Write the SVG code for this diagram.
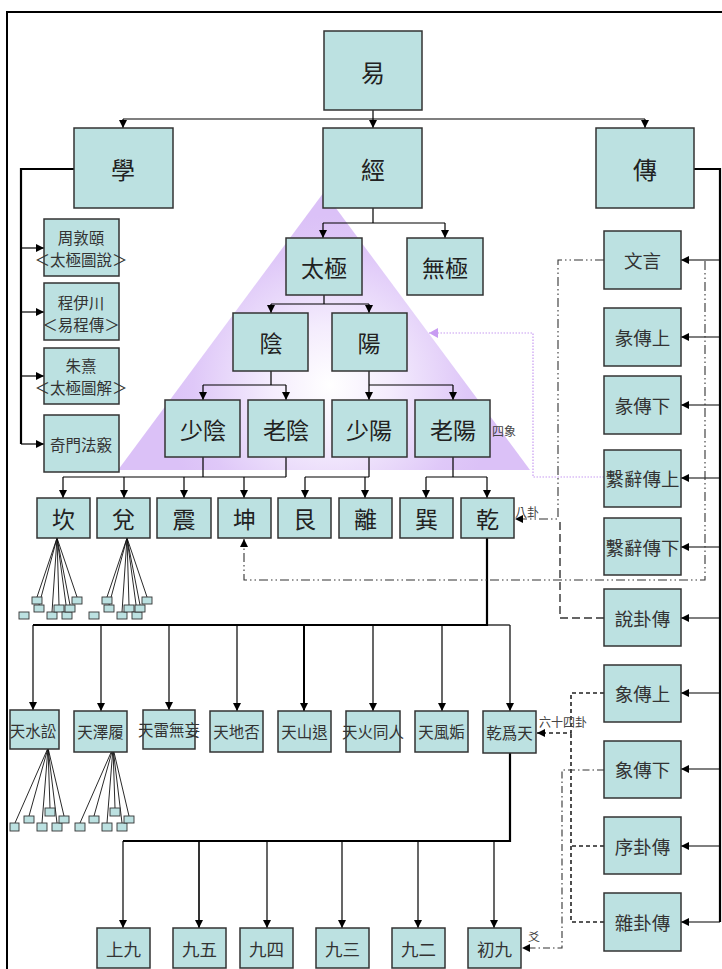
<svg xmlns="http://www.w3.org/2000/svg" width="722" height="969" viewBox="0 0 722 969">
<defs>
<radialGradient id="tri" gradientUnits="userSpaceOnUse" cx="330" cy="385" r="170">
<stop offset="0" stop-color="#ffffff"/>
<stop offset="0.35" stop-color="#f4ecfd"/>
<stop offset="0.8" stop-color="#dfc8f8"/>
<stop offset="1" stop-color="#dbc1f7"/>
</radialGradient>
<marker id="ar" markerUnits="userSpaceOnUse" markerWidth="9" markerHeight="9" refX="8" refY="4" orient="auto">
<path d="M0,0 L8,4 L0,8 z" fill="#000"/>
</marker>
<marker id="arp" markerUnits="userSpaceOnUse" markerWidth="10" markerHeight="10" refX="9" refY="5" orient="auto">
<path d="M0,0 L9,5 L0,10 z" fill="#c89cf2"/>
</marker>
<style>
.b{fill:#bce1e1;stroke:#333;stroke-width:1.5}
.s{fill:#bce1e1;stroke:#333;stroke-width:0.9}
text{font-family:"Noto Sans CJK TC","Noto Sans CJK SC",sans-serif;fill:#222;text-anchor:middle;dominant-baseline:central}
.t24{font-size:24px}
.t23{font-size:23px}
.t18{font-size:18.5px;fill:#333}
.t17{font-size:17.5px;fill:#333}
.t16{font-size:15.5px;fill:#333}
.t15{font-size:15.5px;fill:#333}
.lbl{font-size:12px;fill:#444;text-anchor:start}
.c{fill:none;stroke:#000;stroke-width:1.2}
.ca{fill:none;stroke:#000;stroke-width:1.2;marker-end:url(#ar)}
.k{fill:none;stroke:#000;stroke-width:2.2}
.f{fill:none;stroke:#111;stroke-width:0.9}
.dd{fill:none;stroke:#333;stroke-width:1.1;stroke-dasharray:9,3,1.5,3,1.5,3}
.da{fill:none;stroke:#333;stroke-width:1.4;stroke-dasharray:8,4}
.ds{fill:none;stroke:#222;stroke-width:1.6;stroke-dasharray:4,3}
.dt{fill:none;stroke:#333;stroke-width:1.1;stroke-dasharray:7,3,1.5,3}
.pp{fill:none;stroke:#c89cf2;stroke-width:1.2;stroke-dasharray:1.5,1.5}
</style>
</defs>
<rect width="722" height="969" fill="#fff"/>
<path d="M7,969 V12 H722" fill="none" stroke="#000" stroke-width="2"/>
<polygon id="triangle" points="324,192 530,470 118,470" fill="url(#tri)"/>
<g id="connectors">
<path class="c" d="M373,110 V119 M123,119 H645"/>
<path class="ca" d="M123,119 V128"/>
<path class="ca" d="M373,119 V128"/>
<path class="ca" d="M645,119 V128"/>
<path class="k" d="M74,169 H21 V444"/>
<path class="ca" d="M21,248 H44"/>
<path class="ca" d="M21,312 H44"/>
<path class="ca" d="M21,376 H44"/>
<path class="ca" d="M21,444 H44"/>
<path class="k" d="M694,169 H720 V922"/>
<path class="ca" d="M720,260 H681"/>
<path class="ca" d="M720,337 H681"/>
<path class="ca" d="M720,405 H681"/>
<path class="ca" d="M720,478 H681"/>
<path class="ca" d="M720,547 H681"/>
<path class="ca" d="M720,618 H681"/>
<path class="ca" d="M720,693 H681"/>
<path class="ca" d="M720,769 H681"/>
<path class="ca" d="M720,846 H681"/>
<path class="ca" d="M720,922 H681"/>
<path class="c" d="M373,208 V223 M323,223 H445"/>
<path class="ca" d="M323,223 V238"/>
<path class="ca" d="M445,223 V238"/>
<path class="c" d="M324,295 V304 M271,304 H369"/>
<path class="ca" d="M271,304 V313"/>
<path class="ca" d="M369,304 V313"/>
<path class="c" d="M271,371 V385 M203,385 H286"/>
<path class="ca" d="M203,385 V400"/>
<path class="ca" d="M286,385 V400"/>
<path class="c" d="M369,371 V385 M369,385 H453"/>
<path class="ca" d="M369,385 V400"/>
<path class="ca" d="M453,385 V400"/>
<path class="c" d="M203,457 V477 M286,457 V477 M63,477 H286"/>
<path class="ca" d="M63,477 V498"/>
<path class="ca" d="M124,477 V498"/>
<path class="ca" d="M184,477 V498"/>
<path class="ca" d="M244,477 V498"/>
<path class="c" d="M369,457 V477 M305,477 H369"/>
<path class="ca" d="M305,477 V498"/>
<path class="ca" d="M365,477 V498"/>
<path class="c" d="M453,457 V477 M426,477 H487"/>
<path class="ca" d="M426,477 V498"/>
<path class="ca" d="M487,477 V498"/>
<path class="k" d="M487,538 V625 H33"/>
<path class="c" d="M487,625 H510"/>
<path class="ca" d="M33,625 V710"/>
<path class="ca" d="M101,625 V711"/>
<path class="ca" d="M169,625 V710"/>
<path class="ca" d="M237,625 V711"/>
<path class="ca" d="M304,625 V711" style="stroke-width:2"/>
<path class="ca" d="M373,625 V711"/>
<path class="ca" d="M442,625 V711"/>
<path class="ca" d="M510,625 V711"/>
<path class="k" d="M510,753 V841 H123"/>
<path class="ca" d="M123,841 V928"/>
<path class="ca" d="M199,841 V928" style="stroke-width:1.6"/>
<path class="ca" d="M267,841 V928"/>
<path class="ca" d="M342,841 V928"/>
<path class="ca" d="M418,841 V928"/>
<path class="ca" d="M494,841 V928"/>
<path class="dd" d="M604,260 H558 V519 H515" marker-end="url(#ar)"/>
<path class="da" d="M604,618 H560 V519"/>
<path class="dd" d="M705,261 V580 H244 V539" marker-end="url(#ar)"/>
<path class="pp" d="M604,477 H533 V333 H429" marker-end="url(#arp)"/>
<path class="ds" d="M604,693 H571 V733 H537" marker-end="url(#ar)"/>
<path class="ds" d="M604,846 H571 M604,922 H571 V733"/>
<path class="dt" d="M604,770 H562 V948 H522" marker-end="url(#ar)"/>
<path class="f" d="M57,538 L37,597 M57,538 L39,605 M57,538 L52,612 M57,538 L59,605 M57,538 L67,612 M57,538 L70,605 M57,538 L77,597"/>
<path class="f" d="M127,538 L107,597 M127,538 L109,605 M127,538 L122,612 M127,538 L129,605 M127,538 L137,612 M127,538 L140,605 M127,538 L147,597"/>
<path class="f" d="M48,748 L29,816 M48,748 L42,823 M48,748 L50,808 M48,748 L57,823 M48,748 L64,816 M48,748 L15,823"/>
<path class="f" d="M113,748 L94,816 M113,748 L107,823 M113,748 L115,808 M113,748 L122,823 M113,748 L129,816 M113,748 L80,823"/>
</g>
<g id="fan-small">
<rect class="s" x="32" y="597" width="10" height="7"/><rect class="s" x="34" y="605" width="10" height="7"/><rect class="s" x="19" y="612" width="10" height="7"/><rect class="s" x="47" y="612" width="10" height="7"/><rect class="s" x="54" y="605" width="10" height="7"/><rect class="s" x="62" y="612" width="10" height="7"/><rect class="s" x="65" y="605" width="10" height="7"/><rect class="s" x="72" y="597" width="10" height="7"/>
<rect class="s" x="102" y="597" width="10" height="7"/><rect class="s" x="104" y="605" width="10" height="7"/><rect class="s" x="89" y="612" width="10" height="7"/><rect class="s" x="117" y="612" width="10" height="7"/><rect class="s" x="124" y="605" width="10" height="7"/><rect class="s" x="132" y="612" width="10" height="7"/><rect class="s" x="135" y="605" width="10" height="7"/><rect class="s" x="142" y="597" width="10" height="7"/>
<rect class="s" x="10" y="823" width="9" height="8"/><rect class="s" x="24" y="816" width="10" height="7"/><rect class="s" x="37" y="823" width="10" height="8"/><rect class="s" x="45" y="808" width="10" height="8"/><rect class="s" x="52" y="823" width="10" height="8"/><rect class="s" x="59" y="816" width="10" height="7"/>
<rect class="s" x="75" y="823" width="10" height="8"/><rect class="s" x="89" y="816" width="10" height="7"/><rect class="s" x="102" y="823" width="10" height="8"/><rect class="s" x="110" y="808" width="10" height="8"/><rect class="s" x="117" y="823" width="10" height="8"/><rect class="s" x="124" y="816" width="10" height="7"/>
</g>
<g id="n-yi"><rect class="b" x="324" y="31" width="98" height="79"/><text class="t24" x="373" y="71">易</text></g>
<g id="n-xue"><rect class="b" x="74" y="128" width="99" height="80"/><text class="t24" x="123" y="168">學</text></g>
<g id="n-jing"><rect class="b" x="323" y="128" width="99" height="80"/><text class="t24" x="373" y="168">經</text></g>
<g id="n-zhuan"><rect class="b" x="596" y="128" width="98" height="80"/><text class="t24" x="645" y="168">傳</text></g>
<g id="n-zhou"><rect class="b" x="44" y="219" width="75" height="57"/><text class="t16" x="81" y="237">周敦頤</text><text class="t16" x="81" y="259">＜太極圖說＞</text></g>
<g id="n-cheng"><rect class="b" x="44" y="283" width="75" height="57"/><text class="t16" x="81" y="302">程伊川</text><text class="t16" x="81" y="324">＜易程傳＞</text></g>
<g id="n-zhu"><rect class="b" x="44" y="348" width="75" height="56"/><text class="t16" x="81" y="365">朱熹</text><text class="t16" x="81" y="387">＜太極圖解＞</text></g>
<g id="n-qimen"><rect class="b" x="44" y="415" width="75" height="57"/><text class="t16" x="81" y="444">奇門法竅</text></g>
<g id="n-taiji"><rect class="b" x="286" y="238" width="76" height="57"/><text class="t23" x="324" y="267">太極</text></g>
<g id="n-wuji"><rect class="b" x="407" y="238" width="76" height="57"/><text class="t23" x="445" y="267">無極</text></g>
<g id="n-yin"><rect class="b" x="233" y="313" width="75" height="58"/><text class="t23" x="271" y="342">陰</text></g>
<g id="n-yang"><rect class="b" x="332" y="313" width="75" height="58"/><text class="t23" x="369" y="342">陽</text></g>
<g id="n-shaoyin"><rect class="b" x="165" y="400" width="75" height="57"/><text class="t23" x="203" y="429">少陰</text></g>
<g id="n-laoyin"><rect class="b" x="248" y="400" width="76" height="57"/><text class="t23" x="286" y="429">老陰</text></g>
<g id="n-shaoyang"><rect class="b" x="332" y="400" width="75" height="57"/><text class="t23" x="369" y="429">少陽</text></g>
<g id="n-laoyang"><rect class="b" x="415" y="400" width="75" height="57"/><text class="t23" x="453" y="429">老陽</text></g>
<text class="lbl" x="492" y="430">四象</text>
<g id="n-kan"><rect class="b" x="37" y="498" width="53" height="40"/><text class="t23" x="63.5" y="518">坎</text></g>
<g id="n-dui"><rect class="b" x="97" y="498" width="53" height="40"/><text class="t23" x="123.5" y="518">兌</text></g>
<g id="n-zhen"><rect class="b" x="157" y="498" width="54" height="40"/><text class="t23" x="184" y="518">震</text></g>
<g id="n-kun"><rect class="b" x="218" y="498" width="53" height="40"/><text class="t23" x="244.5" y="518">坤</text></g>
<g id="n-gen"><rect class="b" x="278" y="498" width="53" height="40"/><text class="t23" x="304.5" y="518">艮</text></g>
<g id="n-li"><rect class="b" x="339" y="498" width="53" height="40"/><text class="t23" x="365.5" y="518">離</text></g>
<g id="n-xun"><rect class="b" x="400" y="498" width="53" height="40"/><text class="t23" x="426.5" y="518">巽</text></g>
<g id="n-qian"><rect class="b" x="461" y="498" width="53" height="40"/><text class="t23" x="487.5" y="518">乾</text></g>
<text class="lbl" x="515" y="511">八卦</text>
<g id="n-g1"><rect class="b" x="10" y="710" width="49" height="39"/><text class="t15" x="33" y="730">天水訟</text></g>
<g id="n-g2"><rect class="b" x="74" y="711" width="53" height="41"/><text class="t15" x="100.5" y="731">天澤履</text></g>
<g id="n-g3"><rect class="b" x="143" y="710" width="52" height="39"/><text class="t15" x="169" y="729">天雷無妄</text></g>
<g id="n-g4"><rect class="b" x="210" y="711" width="53" height="41"/><text class="t15" x="236.5" y="731">天地否</text></g>
<g id="n-g5"><rect class="b" x="278" y="711" width="53" height="41"/><text class="t15" x="304.5" y="731">天山退</text></g>
<g id="n-g6"><rect class="b" x="346" y="711" width="54" height="41"/><text class="t15" x="373" y="731">天火同人</text></g>
<g id="n-g7"><rect class="b" x="415" y="711" width="53" height="41"/><text class="t15" x="441.5" y="731">天風姤</text></g>
<g id="n-g8"><rect class="b" x="483" y="711" width="53" height="42"/><text class="t15" x="509.5" y="732">乾爲天</text></g>
<text class="lbl" x="539" y="721">六十四卦</text>
<g id="n-y6"><rect class="b" x="97" y="928" width="53" height="40"/><text class="t17" x="123.5" y="948">上九</text></g>
<g id="n-y5"><rect class="b" x="173" y="928" width="53" height="40"/><text class="t17" x="199.5" y="948">九五</text></g>
<g id="n-y4"><rect class="b" x="240" y="928" width="53" height="40"/><text class="t17" x="266.5" y="948">九四</text></g>
<g id="n-y3"><rect class="b" x="316" y="928" width="53" height="40"/><text class="t17" x="342.5" y="948">九三</text></g>
<g id="n-y2"><rect class="b" x="392" y="928" width="53" height="40"/><text class="t17" x="418.5" y="948">九二</text></g>
<g id="n-y1"><rect class="b" x="468" y="928" width="53" height="40"/><text class="t17" x="494.5" y="948">初九</text></g>
<text class="lbl" x="528" y="936">爻</text>
<g id="n-wenyan"><rect class="b" x="604" y="231" width="77" height="58"/><text class="t18" x="642.5" y="260">文言</text></g>
<g id="n-tuan1"><rect class="b" x="604" y="308" width="77" height="58"/><text class="t18" x="642.5" y="337">彖傳上</text></g>
<g id="n-tuan2"><rect class="b" x="604" y="376" width="77" height="58"/><text class="t18" x="642.5" y="405">彖傳下</text></g>
<g id="n-xici1"><rect class="b" x="604" y="450" width="77" height="57"/><text class="t18" x="642.5" y="478">繫辭傳上</text></g>
<g id="n-xici2"><rect class="b" x="604" y="518" width="77" height="57"/><text class="t18" x="642.5" y="547">繫辭傳下</text></g>
<g id="n-shuogua"><rect class="b" x="604" y="589" width="77" height="57"/><text class="t18" x="642.5" y="618">說卦傳</text></g>
<g id="n-xiang1"><rect class="b" x="604" y="665" width="77" height="57"/><text class="t18" x="642.5" y="693">象傳上</text></g>
<g id="n-xiang2"><rect class="b" x="604" y="741" width="77" height="57"/><text class="t18" x="642.5" y="769">象傳下</text></g>
<g id="n-xugua"><rect class="b" x="604" y="817" width="77" height="57"/><text class="t18" x="642.5" y="846">序卦傳</text></g>
<g id="n-zagua"><rect class="b" x="604" y="893" width="77" height="58"/><text class="t18" x="642.5" y="922">雜卦傳</text></g>
</svg>
